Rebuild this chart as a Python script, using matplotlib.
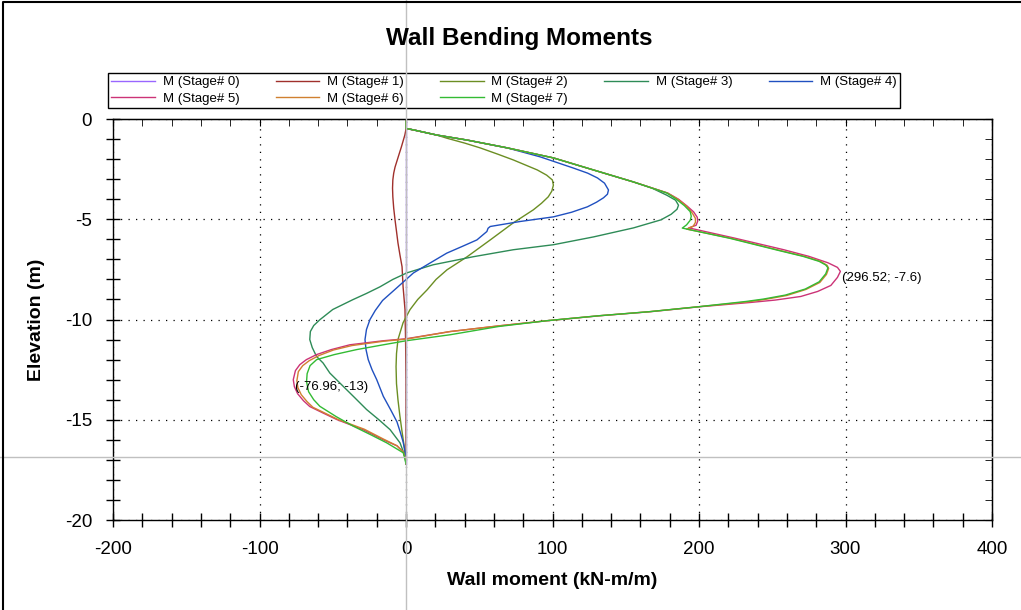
import numpy as np
import matplotlib.pyplot as plt
import matplotlib.transforms as mtransforms
from matplotlib.lines import Line2D
from matplotlib.ticker import MultipleLocator

plt.rcParams['font.family'] = ['Liberation Sans', 'DejaVu Sans']
plt.rcParams['axes.unicode_minus'] = False

# Stage names and colours
stage_labels = ["M (Stage# 0)", "M (Stage# 1)", "M (Stage# 2)", "M (Stage# 3)",
                "M (Stage# 4)", "M (Stage# 5)", "M (Stage# 6)", "M (Stage# 7)"]
stage_colors = ["#9966ff", "#a0302c", "#6b8e23", "#2e8b57",
                "#2050c0", "#cc3377", "#d08030", "#33bb33"]

# Wall moments (kN-m/m) and elevations (m)
elev_s0 = [-0.1, -17.2]
mom_s0 = [0, 0]

elev_s1 = [-0.1, -0.5, -0.8, -1.1, -1.4, -1.7, -2.05, -2.4, -2.7, -3.04, -3.45, -3.88, -4.45,
           -5.03, -5.6, -6.18, -6.8, -7.37, -8.37, -9.5, -11.0, -13.0, -17.2]
mom_s1 = [0, 0, -0.8, -2, -3.2, -4.5, -6, -7.5, -8.4, -9, -9.2, -9, -8.4,
          -7.5, -6.5, -5.5, -4.1, -2.7, -2, -0.7, -0.3, 0, 0]

elev_s2 = [-0.1, -0.47, -0.55, -0.8, -0.96, -1.2, -1.44, -1.75, -2.04, -2.54, -2.8, -3.04,
           -3.3, -3.6, -3.88, -4.2, -4.53, -5.18, -6.03, -6.87, -7.52, -8.0, -8.52, -9.0,
           -9.51, -10.16, -11.0, -11.7, -12.35, -13.2, -14.0, -14.8, -15.6, -16.3, -16.8, -17.2]
mom_s2 = [0, 0, 5.5, 21, 28, 40, 50.6, 62.5, 73.2, 89.6, 96, 99.9,
          100.6, 99.5, 97.1, 92.5, 86.9, 73.2, 57.5, 41.7, 28, 20.5, 14.4, 8,
          2.7, -2, -5.5, -6.5, -6.8, -6.5, -5.5, -4.2, -2.7, -1.3, -0.5, 0]

elev_s3 = [-0.1, -0.47, -0.55, -0.8, -1.05, -1.44, -1.94, -2.54, -3.14, -3.45, -3.8, -4.05,
           -4.3, -4.5, -4.75, -5.03, -5.43, -5.88, -6.27, -6.52, -6.87, -7.27, -7.67, -8.0,
           -8.37, -8.7, -9.01, -9.5, -10.01, -10.3, -10.6, -11.0, -11.4, -11.84, -12.17,
           -12.67, -13.33, -13.9, -14.49, -15.0, -15.49, -16.15, -16.82, -17.2]
mom_s3 = [0, 0, 5.5, 21, 41.7, 69.1, 100.6, 127.9, 155.3, 168, 178, 184,
          186, 185, 181, 174, 155.3, 128, 100.6, 73.2, 45.8, 18.5, 0.7, -9,
          -17.8, -27, -36.3, -50, -58.8, -63, -65.3, -65.7, -64, -61.1, -56.6,
          -52, -42.9, -35, -26.9, -18.5, -10.9, -4.1, -0.7, 0]

elev_s4 = [-0.1, -0.47, -0.55, -0.8, -1.05, -1.44, -1.89, -2.44, -2.7, -2.94, -3.2, -3.54,
           -3.75, -3.93, -4.15, -4.38, -4.65, -4.88, -5.11, -5.36, -5.45, -5.61, -6.03, -6.35,
           -6.69, -7.2, -7.68, -8.4, -9.05, -9.55, -10.0, -10.5, -11.0, -11.5, -12.0, -12.5,
           -13.0, -13.83, -14.5, -15.1, -15.6, -16.1, -16.8, -17.2]
mom_s4 = [0, 0, 5.5, 21, 41.7, 69.1, 91.7, 114, 124, 130.7, 135.5, 138.2,
          137.5, 134.8, 130, 123.8, 113, 100.6, 78, 57.5, 56, 55.2, 48.4, 38.5,
          27.8, 16, 5, -6, -16, -21, -24.6, -27, -28, -27.3, -25.8, -23.2,
          -20, -15.5, -10.5, -6.2, -4, -2, 0, 0]

elev_s5 = [-0.1, -0.47, -0.55, -0.8, -1.05, -1.44, -1.94, -2.54, -3.14, -3.69, -4.0, -4.35,
           -4.63, -4.9, -5.1, -5.3, -5.43, -5.93, -6.52, -6.85, -7.17, -7.4, -7.6, -7.9,
           -8.3, -8.6, -8.85, -9.03, -9.15, -9.36, -9.61, -9.81, -10.06, -10.31, -10.6,
           -10.96, -11.06, -11.26, -11.5, -11.75, -12.0, -12.25, -12.55, -13.0, -13.35,
           -13.7, -14.05, -14.34, -14.65, -14.99, -15.49, -15.99, -16.3, -16.6, -17.0, -17.2]
mom_s5 = [0, 0, 5.5, 21, 41.7, 69.1, 100.6, 127.9, 155.3, 178.6, 186, 192,
          196.3, 198.8, 199.1, 198, 193, 223.7, 257.9, 275, 288, 294.5, 296.52, 294.5,
          290, 281, 269.5, 252, 235, 201, 166.9, 132.7, 96.5, 64.3, 30.1,
          0, -15.7, -38.3, -51, -61.1, -68, -72.5, -75.5, -76.96, -76.2,
          -74, -70, -65.7, -57, -47.2, -29.4, -15.7, -6.2, -2, 0, 0]

elev_s6 = [-0.1, -0.47, -0.55, -0.8, -1.05, -1.44, -1.94, -2.54, -3.14, -3.69, -4.0, -4.35,
           -4.7, -4.95, -5.15, -5.35, -5.49, -5.95, -6.55, -6.85, -7.1, -7.3, -7.45, -7.75,
           -8.15, -8.5, -8.8, -9.0, -9.12, -9.36, -9.61, -9.81, -10.06, -10.31, -10.6,
           -10.98, -11.08, -11.3, -11.52, -11.8, -12.05, -12.3, -12.6, -13.05, -13.4,
           -13.75, -14.1, -14.38, -14.68, -15.0, -15.47, -15.97, -16.3, -16.6, -17.0, -17.2]
mom_s6 = [0, 0, 5.5, 21, 41.7, 69.1, 100.6, 127.9, 155.3, 178.4, 185.5, 191.5,
          195.5, 197.5, 197.6, 196, 191.5, 222, 255, 272, 283, 287.5, 288.5, 287,
          282.5, 273, 260, 245, 233, 200, 166, 132, 96, 64, 30,
          0, -15, -37, -49.5, -59.5, -66, -70.5, -73.5, -74.5, -73.8,
          -71.5, -67.5, -63.5, -55, -46, -28.5, -15.2, -6, -2, 0, 0]

elev_s7 = [-0.1, -0.47, -0.55, -0.8, -1.05, -1.44, -1.94, -2.54, -3.14, -3.69, -4.0, -4.32,
           -4.62, -4.85, -5.05, -5.28, -5.44, -5.95, -6.55, -6.85, -7.1, -7.28, -7.42, -7.72,
           -8.12, -8.48, -8.78, -8.98, -9.1, -9.36, -9.61, -9.81, -10.06, -10.35, -10.76,
           -11.06, -11.28, -11.5, -11.75, -12.0, -12.3, -12.7, -13.1, -13.6, -14.0, -14.33,
           -14.85, -15.32, -15.75, -16.15, -16.65, -17.2]
mom_s7 = [0, 0, 5.5, 21, 41.7, 69.1, 100.6, 127.9, 155.3, 178, 184.5, 190,
          194, 194.7, 194, 191.5, 188.6, 221, 254, 271, 282, 286.5, 288, 286.5,
          282, 272.5, 259, 244, 232, 200, 166, 132, 96, 63, 30.1,
          0, -17, -33.7, -49, -61, -65.5, -67.5, -67.9, -66.5, -63, -58.8,
          -47.5, -36, -24, -13.2, -1.8, 0]

elevations = [elev_s0, elev_s1, elev_s2, elev_s3, elev_s4, elev_s5, elev_s6, elev_s7]
moments = [mom_s0, mom_s1, mom_s2, mom_s3, mom_s4, mom_s5, mom_s6, mom_s7]

# labelled extreme points
max_point = (296.52, -7.6)
min_point = (-76.96, -13)

# cursor cross-hair position
cursor_moment = 0
cursor_elev = -16.85

fig = plt.figure(figsize=(10.21, 6.10), dpi=100)
ax = fig.add_axes([0.1107, 0.1475, 0.8609, 0.6574])

handles = []
for i in range(len(stage_labels)):
    h, = ax.plot(moments[i], elevations[i], color=stage_colors[i], lw=1.0, label=stage_labels[i])
    handles.append(h)

ax.set_xlim(-200, 400)
ax.set_ylim(-20, 0)
ax.xaxis.set_major_locator(MultipleLocator(100))
ax.xaxis.set_minor_locator(MultipleLocator(20))
ax.yaxis.set_major_locator(MultipleLocator(5))
ax.yaxis.set_minor_locator(MultipleLocator(1))
ax.tick_params(which='both', direction='inout', length=10, width=1, color='black',
               labelsize=13.5, pad=10)
ax.grid(which='major', color='black', linestyle=(0, (1, 5)), linewidth=0.9)
for sp in ax.spines.values():
    sp.set_linewidth(1.0)

secx = ax.secondary_xaxis('top')
secx.xaxis.set_major_locator(MultipleLocator(100))
secx.xaxis.set_minor_locator(MultipleLocator(20))
secx.tick_params(which='both', direction='in', length=5, labeltop=False)
secy = ax.secondary_yaxis('right')
secy.yaxis.set_major_locator(MultipleLocator(5))
secy.yaxis.set_minor_locator(MultipleLocator(1))
secy.tick_params(which='both', direction='in', length=5, labelright=False)

ax.set_xlabel("Wall moment (kN-m/m)", fontsize=14, fontweight='bold', labelpad=10)
ax.set_ylabel("Elevation (m)", fontsize=14, fontweight='bold', labelpad=14)
fig.text(0.509, 0.937, "Wall Bending Moments", fontsize=17.5, fontweight='bold',
         ha='center', va='center')

for pt in [max_point, min_point]:
    ax.annotate("(%g; %g)" % pt, xy=pt, xytext=(1, -5), textcoords='offset points',
                ha='left', va='center', fontsize=9.5)

# legend filled row by row: matplotlib fills columns, so reorder
order = [0, 5, 1, 6, 2, 7, 3, 4]
leg = ax.legend([handles[k] for k in order], [stage_labels[k] for k in order],
                loc='lower left', bbox_to_anchor=(0.1058, 0.823, 0.7757, 0.062),
                bbox_transform=fig.transFigure, ncol=5, mode='expand', fontsize=9.5,
                frameon=True, fancybox=False, edgecolor='black', framealpha=1,
                handlelength=3.3, handletextpad=0.6, labelspacing=0.3,
                borderpad=0.25, borderaxespad=0)
leg.get_frame().set_linewidth(1.0)

# grey cross-hair through the whole figure
vtrans = mtransforms.blended_transform_factory(ax.transData, fig.transFigure)
htrans = mtransforms.blended_transform_factory(fig.transFigure, ax.transData)
fig.add_artist(Line2D([cursor_moment, cursor_moment], [0, 1], transform=vtrans,
                      color='#c0c0c0', lw=1.0))
fig.add_artist(Line2D([0, 1], [cursor_elev, cursor_elev], transform=htrans,
                      color='#c0c0c0', lw=1.0))

# outer frame (left and top)
fig.add_artist(Line2D([0.003, 0.003, 1], [0, 0.997, 0.997], transform=fig.transFigure,
                      color='black', lw=1.5))

fig.savefig("out.png", dpi=100)
